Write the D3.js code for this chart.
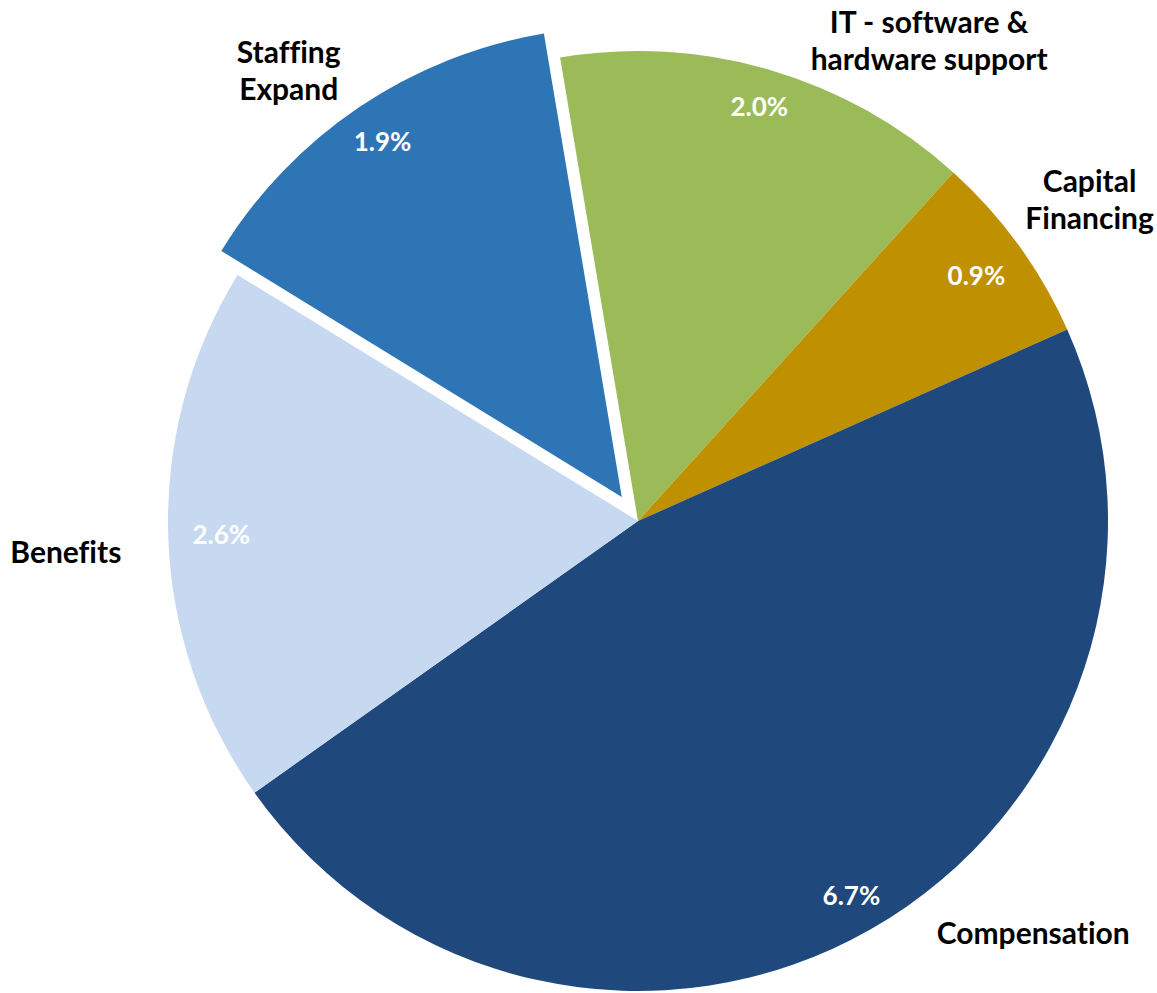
<!DOCTYPE html>
<meta charset="utf-8">
<style>
body { margin: 0; background: #fff; }
.cat { font-family: Lato, "Open Sans", sans-serif; font-weight: 700; fill: #000; font-variant-ligatures: none; }
.pct { font-family: Lato, "Open Sans", sans-serif; font-weight: 700; fill: #fff; }
</style>
<body>
<script src="https://d3js.org/d3.v7.min.js"></script>
<script>

// data, clockwise from the top
var categories = ["IT - software & hardware support", "Capital Financing", "Compensation", "Benefits", "Staffing Expand"];
var values = [2.04, 0.94, 6.66, 2.64, 1.93];
var colors = ["#9BBB59", "#BF9000", "#1F497D", "#C6D9F1", "#2E75B6"];
var labelLines = [["IT - software &", "hardware support"], ["Capital", "Financing"], ["Compensation"], ["Benefits"], ["Staffing", "Expand"]];
var exploded = [0, 0, 0, 0, 1];

// label placement: distance of the % label, angle (deg) and distance of the name
var pctRadius = [432, 418, 431, 417, 428];
var labelAngle = [31.2, 54.6, 136.2, 266.9, 322];
var labelRadius = [562, 554, 571, 573, 541];

var width = 1157, height = 993;
var cx = 638, cy = 521, radius = 470, explode = 29;
var startDeg = -9.54;

var svg = d3.select("body").append("svg")
  .attr("width", width)
  .attr("height", height);

var g = svg.append("g")
  .attr("transform", "translate(" + cx + "," + cy + ")");

var rad = Math.PI / 180;
var pie = d3.pie()
  .sort(null)
  .value(function(d) { return d; })
  .startAngle(startDeg * rad)
  .endAngle((startDeg + 360) * rad);

var arcs = pie(values);

var arc = d3.arc().innerRadius(0).outerRadius(radius);

function midAngle(d) { return (d.startAngle + d.endAngle) / 2; }

function offset(d, i) {
  if (!exploded[i]) return [0, 0];
  var a = midAngle(d);
  return [Math.sin(a) * explode, -Math.cos(a) * explode];
}

var slices = g.selectAll(".slice")
  .data(arcs)
  .enter().append("g")
  .attr("class", "slice")
  .attr("transform", function(d, i) { var o = offset(d, i); return "translate(" + o[0] + "," + o[1] + ")"; });

slices.append("path")
  .attr("d", arc)
  .attr("fill", function(d, i) { return colors[i]; });

// percentage labels
slices.append("text")
  .attr("class", "pct")
  .attr("transform", function(d, i) {
    var a = midAngle(d), r = pctRadius[i];
    return "translate(" + (Math.sin(a) * r) + "," + (-Math.cos(a) * r) + ")";
  })
  .attr("text-anchor", "middle")
  .attr("dy", "0.36em")
  .attr("font-size", "26px")
  .text(function(d) { return d.value.toFixed(1) + "%"; });

// category labels
var lineH = 37;
slices.append("text")
  .attr("class", "cat")
  .attr("font-size", "30px")
  .attr("text-anchor", "middle")
  .attr("transform", function(d, i) {
    var a = labelAngle[i] * rad;
    return "translate(" + (Math.sin(a) * labelRadius[i]) + "," + (-Math.cos(a) * labelRadius[i]) + ")";
  })
  .each(function(d, i) {
    var lines = labelLines[i];
    var t = d3.select(this);
    lines.forEach(function(l, j) {
      t.append("tspan")
        .attr("x", 0)
        .attr("y", (j - (lines.length - 1) / 2) * lineH)
        .attr("dy", "0.36em")
        .text(l);
    });
  });

</script>
</body>
